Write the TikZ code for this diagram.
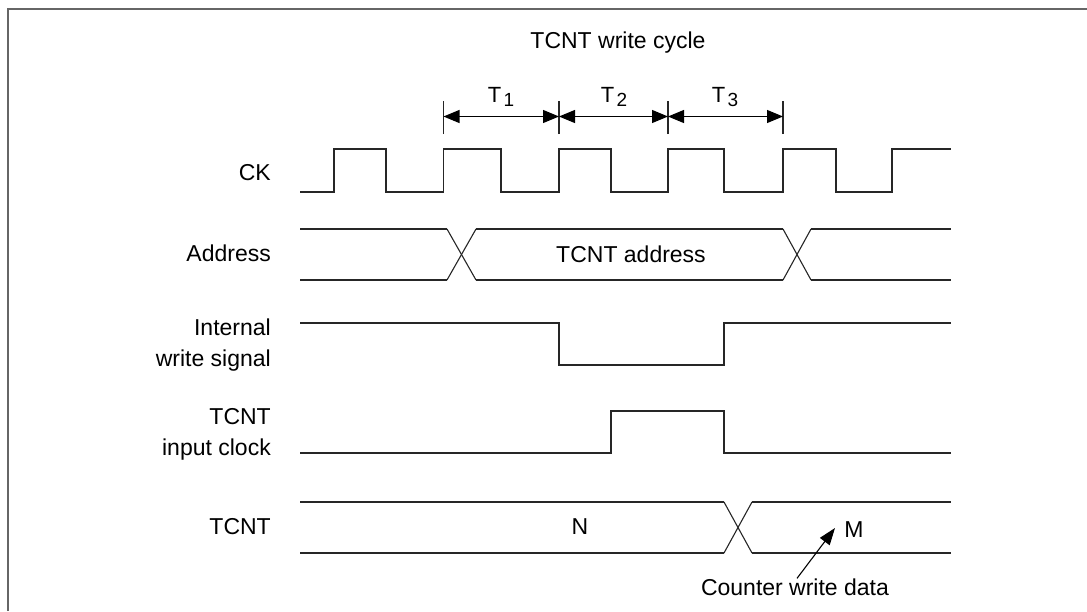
\documentclass[tikz,border=0pt]{standalone}
\usepackage{fontspec}
\setmainfont{Liberation Sans}
\usetikzlibrary{arrows.meta}
\newcommand{\Tsub}[1]{{\fontsize{22}{22}\selectfont T}\kern2.5pt\raisebox{-4.5pt}{\fontsize{19}{18}\selectfont #1}}
\begin{document}
\begin{tikzpicture}[x=1pt,y=-1pt,
  lbl/.style={inner sep=0pt, font=\fontsize{23}{31}\selectfont},
  sig/.style={line width=1.5pt, draw=black!85},
  xing/.style={line width=1.1pt, draw=black!85},
  tick/.style={line width=1.1pt, draw=black!85},
  dimarrow/.style={line width=1.1pt, {Triangle[length=16pt,width=13pt]}-{Triangle[length=16pt,width=13pt]}},
  ptr/.style={line width=1.1pt, -{Triangle[length=17pt,width=12pt]}},
  frame/.style={line width=1.6pt, draw=black!60}]
\useasboundingbox (0,0) rectangle (1087,611);
% frame
\draw[frame] (8,611) -- (8,9) -- (1087,9);
% title
\node[lbl] (title) at (618,43) {TCNT write cycle};
% period markers
\coordinate (m0) at (443.5,116.5);
\coordinate (m1) at (559,116.5);
\coordinate (m2) at (668,116.5);
\coordinate (m3) at (783,116.5);
\foreach \m in {m0,m1,m2,m3}{
  \draw[tick] ([yshift=-17.5pt]\m) -- ([yshift=16pt]\m);
}
\draw[dimarrow] (m0) -- (m1);
\draw[dimarrow] (m1) -- (m2);
\draw[dimarrow] (m2) -- (m3);
\node[lbl] (t1) at (501,97) {\Tsub{1}};
\node[lbl] (t2) at (614,97) {\Tsub{2}};
\node[lbl] (t3) at (725,97) {\Tsub{3}};
% signal labels
\node[lbl, anchor=east] (lck) at (271,173) {CK};
\node[lbl, anchor=east] (ladr) at (271,253) {Address};
\node[lbl, anchor=east, align=right] (lwr) at (271,345) {Internal\\write signal};
\node[lbl, anchor=east, align=right] (lclk) at (271,434) {TCNT\\input clock};
\node[lbl, anchor=east] (ltc) at (271,527) {TCNT};
% CK
\draw[sig] (300,192) -- (334,192) -- (334,149) -- (386,149) -- (386,192)
  -- (443.5,192) -- (443.5,149) -- (501,149) -- (501,192)
  -- (559,192) -- (559,149) -- (611,149) -- (611,192)
  -- (668,192) -- (668,149) -- (724,149) -- (724,192)
  -- (783,192) -- (783,149) -- (836,149) -- (836,192)
  -- (892,192) -- (892,149) -- (951,149);
% Address
\draw[sig] (300,229) -- (447,229);
\draw[sig] (300,280) -- (447,280);
\draw[xing] (447,229) -- (476,280);
\draw[xing] (447,280) -- (476,229);
\draw[sig] (476,229) -- (783,229);
\draw[sig] (476,280) -- (783,280);
\draw[xing] (783,229) -- (811,280);
\draw[xing] (783,280) -- (811,229);
\draw[sig] (811,229) -- (951,229);
\draw[sig] (811,280) -- (951,280);
\node[lbl] (adr) at (631,254) {TCNT address};
% Internal write signal
\draw[sig] (300,323) -- (559,323) -- (559,365) -- (724,365) -- (724,323) -- (951,323);
% TCNT input clock
\draw[sig] (300,453) -- (611,453) -- (611,411) -- (724,411) -- (724,453) -- (951,453);
% TCNT
\draw[sig] (300,502) -- (724,502);
\draw[sig] (300,553) -- (724,553);
\draw[xing] (724,502) -- (752,553);
\draw[xing] (724,553) -- (752,502);
\draw[sig] (752,502) -- (951,502);
\draw[sig] (752,553) -- (951,553);
\node[lbl] (n) at (580,527) {N};
\node[lbl] (m) at (854,530) {M};
\node[lbl] (cwd) at (795,587) {Counter write data};
\coordinate (ptrtip) at (835,528);
\draw[ptr] ([xshift=2pt]cwd.north) -- (ptrtip);
\end{tikzpicture}
\end{document}
